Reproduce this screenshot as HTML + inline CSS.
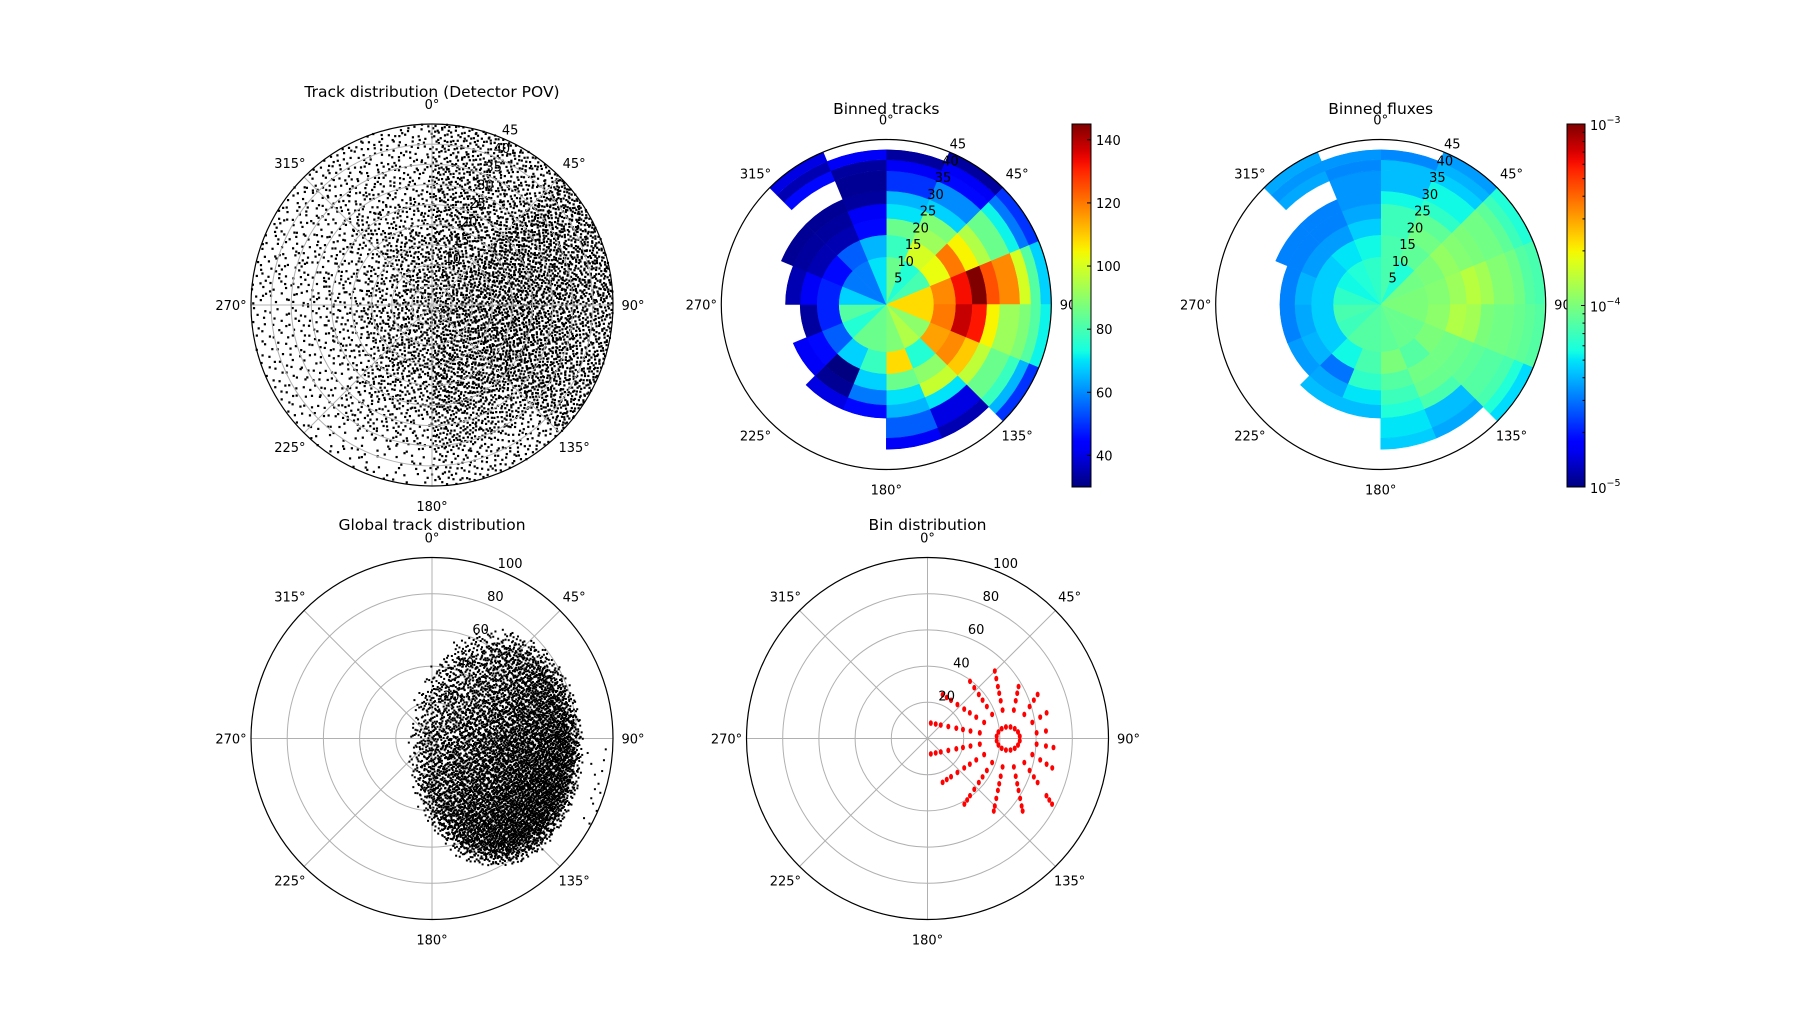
<!DOCTYPE html>
<html><head><meta charset="utf-8">
<style>
html,body{margin:0;padding:0;background:#fff;}
svg{display:block;font-family:"DejaVu Sans","Liberation Sans",sans-serif;}
</style></head>
<body>
<svg id="fig" width="1809" height="1033" viewBox="0 0 1809 1033" xmlns="http://www.w3.org/2000/svg">
<defs>
<linearGradient id="jetGrad" x1="0" y1="1" x2="0" y2="0"></linearGradient>
</defs>
<rect width="1809" height="1033" fill="#fff"/>
</svg>
<script>
// ---------- data ----------
const angleTickLabels = [0,45,90,135,180,225,270,315];
const detRTicks = [5,10,15,20,25,30,35,40,45];
const globRTicks = [20,40,60,80,100];
const ringEdges = [0,13,19,23.5,27.5,31,36.5,39.5,42.2,45];
// binned tracks counts: 16 sectors (22.5 deg, clockwise from N) x 9 rings
const binnedTracks = [
 [85,78,85,70,65,50,42,33,null],
 [75,100,92,88,68,60,45,42,33],
 [80,103,120,105,95,85,72,58,50],
 [108,118,133,145,125,118,100,82,68],
 [108,120,138,132,105,92,88,82,72],
 [90,115,118,110,97,85,78,65,50],
 [95,75,90,98,70,40,35,null,null],
 [88,108,85,70,65,55,42,null,null],
 [85,78,68,58,45,null,null,null,null],
 [85,68,30,32,40,null,null,null,null],
 [75,55,45,42,null,null,null,null,null],
 [82,48,33,null,null,null,null,null,null],
 [68,48,42,35,null,null,null,null,null],
 [58,45,35,33,32,null,null,null,null],
 [58,55,35,33,32,null,45,35,40],
 [70,65,45,42,33,32,33,42,null]
];
const trackCbTicks = [40,60,80,100,120,140];
const trackVmin = 30, trackVmax = 145;
// binned fluxes
const binnedFluxes = [
 [7.5e-5,7.5e-5,7e-5,7e-5,5.5e-5,4.2e-5,4.2e-5,3.3e-5,null],
 [6e-5,8.5e-5,9.5e-5,8.5e-5,6.5e-5,5.5e-5,4.5e-5,4e-5,3.6e-5],
 [9.5e-5,1.0e-4,1.15e-4,1.05e-4,1.0e-4,9.5e-5,8.5e-5,7e-5,6e-5],
 [1.0e-4,1.05e-4,1.2e-4,1.4e-4,1.25e-4,1.05e-4,9.5e-5,8e-5,7.5e-5],
 [1.0e-4,1.1e-4,1.35e-4,1.25e-4,1.0e-4,9.5e-5,9e-5,8.5e-5,8e-5],
 [9e-5,1.0e-4,9.5e-5,9e-5,8.5e-5,8e-5,7.5e-5,6e-5,4.8e-5],
 [9e-5,8e-5,9.5e-5,9e-5,7.5e-5,4.2e-5,3.8e-5,null,null],
 [8.5e-5,1.0e-4,8e-5,7e-5,6e-5,5e-5,4.5e-5,null,null],
 [8e-5,7.5e-5,6.5e-5,5e-5,4.2e-5,null,null,null,null],
 [8e-5,5.5e-5,3e-5,3.8e-5,4.2e-5,null,null,null,null],
 [7e-5,4.5e-5,4e-5,3.6e-5,null,null,null,null,null],
 [7.5e-5,4.5e-5,3.8e-5,3.2e-5,null,null,null,null,null],
 [6.5e-5,4.5e-5,4e-5,3.2e-5,null,null,null,null,null],
 [5.5e-5,4.5e-5,3.6e-5,3.2e-5,3.2e-5,null,null,null,null],
 [6e-5,5e-5,3.6e-5,3.2e-5,3.2e-5,null,3.8e-5,3.5e-5,3.8e-5],
 [6.5e-5,5.5e-5,4.5e-5,3.8e-5,3.5e-5,3.5e-5,3.3e-5,3.5e-5,null]
];
const fluxCbExp = [-5,-4,-3];
// detector-POV scatter: relative density per 45deg sector x 9-unit ring
const povDensity = [
 [6,6,5.5,5,4],[7,8,8.5,8,7],[8,8.5,8.5,7.5,6],[7,7.5,7,5,2.5],
 [6,5.5,4,2.5,1],[5.5,4.5,2.5,1.5,1.2],[5.5,3.5,2.5,1.8,1.6],[6,5,3.5,2.5,2]
];
const povRingEdges = [0,9,18,27,36,45];
// global cloud (data units, x right / y up)
const cloudCenter = [35,-5];
const cloudRadii = [44,60];
const cloudCount = 7000;
const outliersX = [86,88,90,92,93,95,89,91,84,87,94,96,90,88];
const outliersY = [-8,-14,-20,-25,-30,-12,-36,-40,-44,-47,-18,-6,-28,-33];
// bin distribution: detector center in global frame
const binOrigin = [44.6,0];

// ---------- helpers ----------
const NS="http://www.w3.org/2000/svg";
const svg=document.getElementById('fig');
function mk(tag,attrs,parent){const e=document.createElementNS(NS,tag);for(const k in attrs)e.setAttribute(k,attrs[k]);(parent||svg).appendChild(e);return e;}
function interp(pts,x){for(let i=1;i<pts.length;i++){if(x<=pts[i][0]){const a=pts[i-1],b=pts[i];return a[1]+(b[1]-a[1])*(x-a[0])/(b[0]-a[0]);}}return pts[pts.length-1][1];}
function jet(f){f=Math.max(0,Math.min(1,f));
 const r=interp([[0,0],[0.35,0],[0.66,1],[0.89,1],[1,0.5]],f);
 const g=interp([[0,0],[0.125,0],[0.375,1],[0.64,1],[0.91,0],[1,0]],f);
 const b=interp([[0,0.5],[0.11,1],[0.34,1],[0.65,0],[1,0]],f);
 return `rgb(${Math.round(r*255)},${Math.round(g*255)},${Math.round(b*255)})`;}
function halton(i,b){let f=1,r=0;while(i>0){f/=b;r+=f*(i%b);i=Math.floor(i/b);}return r;}
function P(p,th,r){const a=th*Math.PI/180,s=r*p.R/p.rmax;return [p.cx+s*Math.sin(a),p.cy-s*Math.cos(a)];}
function sectorPath(p,t0,t1,r0,r1){
 const a=P(p,t0,r1),b=P(p,t1,r1),c=P(p,t1,r0),d=P(p,t0,r0);
 const R1=r1*p.R/p.rmax,R0=r0*p.R/p.rmax;
 let s=`M${a[0]},${a[1]} A${R1},${R1} 0 0 1 ${b[0]},${b[1]} L${c[0]},${c[1]}`;
 if(r0>0) s+=` A${R0},${R0} 0 0 0 ${d[0]},${d[1]}`;
 return s+'Z';}

const plots={
 pov:{cx:432,cy:305,R:181,rmax:45},
 tracks:{cx:886.3,cy:304.5,R:165,rmax:45},
 flux:{cx:1380.7,cy:304.5,R:165,rmax:45},
 glob:{cx:432,cy:738.5,R:181,rmax:100},
 bins:{cx:927.5,cy:738.5,R:181,rmax:100}
};

function drawGrid(p,g,ticks){
 for(const v of ticks){if(v>=p.rmax)continue;
  const c=mk('circle',{cx:p.cx,cy:p.cy,r:v*p.R/p.rmax,fill:'none',stroke:'#b0b0b0','stroke-width':1},g);
  
  }
 for(const d of angleTickLabels){const e=P(p,d,p.rmax);
  const l=mk('line',{x1:p.cx,y1:p.cy,x2:e[0],y2:e[1],stroke:'#b0b0b0','stroke-width':1},g);
  
  }
}
function drawFrame(p,g,ticks,title,titleY){
 const c=mk('circle',{cx:p.cx,cy:p.cy,r:p.R,fill:'none',stroke:'#000','stroke-width':1.2},g);
 
 
 for(const d of angleTickLabels){const q=P(p,d,p.rmax*(p.R+20)/p.R);
  const t=mk('text',{x:q[0],y:q[1]+5,'text-anchor':'middle','font-size':13,fill:'#000'},g);
  t.textContent=d+'°';
  
  }
 for(const v of ticks){const q=P(p,24,v+11*p.rmax/p.R);
  const t=mk('text',{x:q[0],y:q[1]+5,'text-anchor':'middle','font-size':13,fill:'#000'},g);
  t.textContent=v;
  
  }
 const tt=mk('text',{x:p.cx,y:titleY,'text-anchor':'middle','font-size':15.5,fill:'#000'},g);
 tt.textContent=title;
 
 
}

// ---------- plot 1: detector POV scatter ----------
{const p=plots.pov;const g=mk('g',{});
 
 
 let idx=1;
 povDensity.forEach((row,k)=>{row.forEach((dens,i)=>{
  const r0=povRingEdges[i],r1=povRingEdges[i+1];
  const area=Math.PI/8*(r1*r1-r0*r0);
  const n=Math.round(dens*area*0.23);
  for(let j=0;j<n;j++,idx++){
   const u=halton(idx,2),v=halton(idx,3);
   const r=Math.sqrt(r0*r0+u*(r1*r1-r0*r0));
   const th=45*k+45*v;
   const q=P(p,th,r);
   const d=mk('rect',{x:q[0]-1.1,y:q[1]-1.1,width:2.2,height:2.2,fill:'#000'},g);
   
   
  }});});
 drawGrid(p,g,detRTicks);
 drawFrame(p,g,detRTicks,'Track distribution (Detector POV)',97);
}

// ---------- plots 2 & 3: binned meshes ----------
function drawMesh(p,data,colorOf,name,title){
 const g=mk('g',{});
 
 
 data.forEach((row,k)=>row.forEach((v,i)=>{ if(v===null)return;
  const path=mk('path',{d:sectorPath(p,22.5*k,22.5*(k+1),ringEdges[i],ringEdges[i+1]),fill:colorOf(v),stroke:colorOf(v),'stroke-width':0.5},g);
  
  
 }));
 drawFrame(p,g,detRTicks,title,114);
}
drawMesh(plots.tracks,binnedTracks,v=>jet((v-trackVmin)/(trackVmax-trackVmin)),'binned-tracks-plot','Binned tracks');
drawMesh(plots.flux,binnedFluxes,v=>jet((Math.log10(v)+5)/2),'binned-fluxes-plot','Binned fluxes');

// colorbars
{const grad=document.getElementById('jetGrad');
 for(let i=0;i<=40;i++){mk('stop',{offset:(i/40),'stop-color':jet(i/40)},grad);}}
function colorbar(x,y0,y1,w,name){
 const g=mk('g',{});
 
 
 const r=mk('rect',{x:x,y:y0,width:w,height:y1-y0,fill:'url(#jetGrad)',stroke:'#000','stroke-width':1},g);
 
 
 return g;}
{const x=1072,y0=124,y1=487,w=19;const g=colorbar(x,y0,y1,w,'binned-tracks-colorbar');
 for(const v of trackCbTicks){const y=y1-(v-trackVmin)/(trackVmax-trackVmin)*(y1-y0);
  const l=mk('line',{x1:x+w-4,y1:y,x2:x+w,y2:y,stroke:'#000'},g);
  
  
  const t=mk('text',{x:x+w+5,y:y+5,'font-size':13,fill:'#000'},g);
  t.textContent=v;
  
  }}
{const x=1567,y0=124,y1=487,w=18;const g=colorbar(x,y0,y1,w,'binned-fluxes-colorbar');
 const yOf=e=>y1-(e+5)/2*(y1-y0);
 for(let e=-5;e<-3;e++)for(let m=2;m<=9;m++){const y=yOf(e+Math.log10(m));
  const l=mk('line',{x1:x+w-2.5,y1:y,x2:x+w,y2:y,stroke:'#000'},g);
  
  }
 for(const e of fluxCbExp){const y=yOf(e);
  const l=mk('line',{x1:x+w-4,y1:y,x2:x+w,y2:y,stroke:'#000'},g);
  
  
  const t=mk('text',{x:x+w+5,y:y+6,'font-size':13,fill:'#000'},g);
  
  
  t.textContent='10';
  const s=mk('tspan',{dy:-7,'font-size':9.5},t);
  s.textContent='−'+(-e);}}

// ---------- plot 4: global track distribution ----------
{const p=plots.glob;const g=mk('g',{});
 
 
 drawGrid(p,g,globRTicks);
 const s=p.R/p.rmax;
 let placed=0,i=1;
 while(placed<cloudCount&&i<80000){
  const u=(halton(i,2)*2-1)*1.12,v=(halton(i,3)*2-1)*1.12,w=halton(i,5);i++;
  const rr=u*u+v*v;
  if(rr>1.25)continue;
  let wt=0.3+0.7*Math.min(1,Math.max(0,0.5+0.45*u-0.45*v));
  if(rr>0.8) wt*=Math.max(0,(1.25-rr)/0.45);
  if(w>wt)continue;
  const x=cloudCenter[0]+u*cloudRadii[0],y=cloudCenter[1]+v*cloudRadii[1];
  const d=mk('rect',{x:p.cx+x*s-1,y:p.cy-y*s-1,width:2,height:2,fill:'#000'},g);
  
  
  placed++;}
 outliersX.forEach((x,j)=>{const d=mk('rect',{x:p.cx+x*s-1,y:p.cy-outliersY[j]*s-1,width:2,height:2,fill:'#000'},g);
  
  });
 drawFrame(p,g,globRTicks,'Global track distribution',530);
}

// ---------- plot 5: bin distribution ----------
{const p=plots.bins;const g=mk('g',{});
 
 
 drawGrid(p,g,globRTicks);
 const s=p.R/p.rmax;
 binnedTracks.forEach((row,k)=>row.forEach((v,i)=>{ if(v===null)return;
  const rm=(ringEdges[i]+ringEdges[i+1])/2;
  const th=(22.5*k+11.25+180)*Math.PI/180;
  const x=binOrigin[0]+rm*Math.sin(th),y=binOrigin[1]+rm*Math.cos(th);
  const e=mk('ellipse',{cx:p.cx+x*s,cy:p.cy-y*s,rx:2,ry:2.8,fill:'#ff0000'},g);
  
  
 }));
 drawFrame(p,g,globRTicks,'Bin distribution',530);
}
</script>
</body></html>
